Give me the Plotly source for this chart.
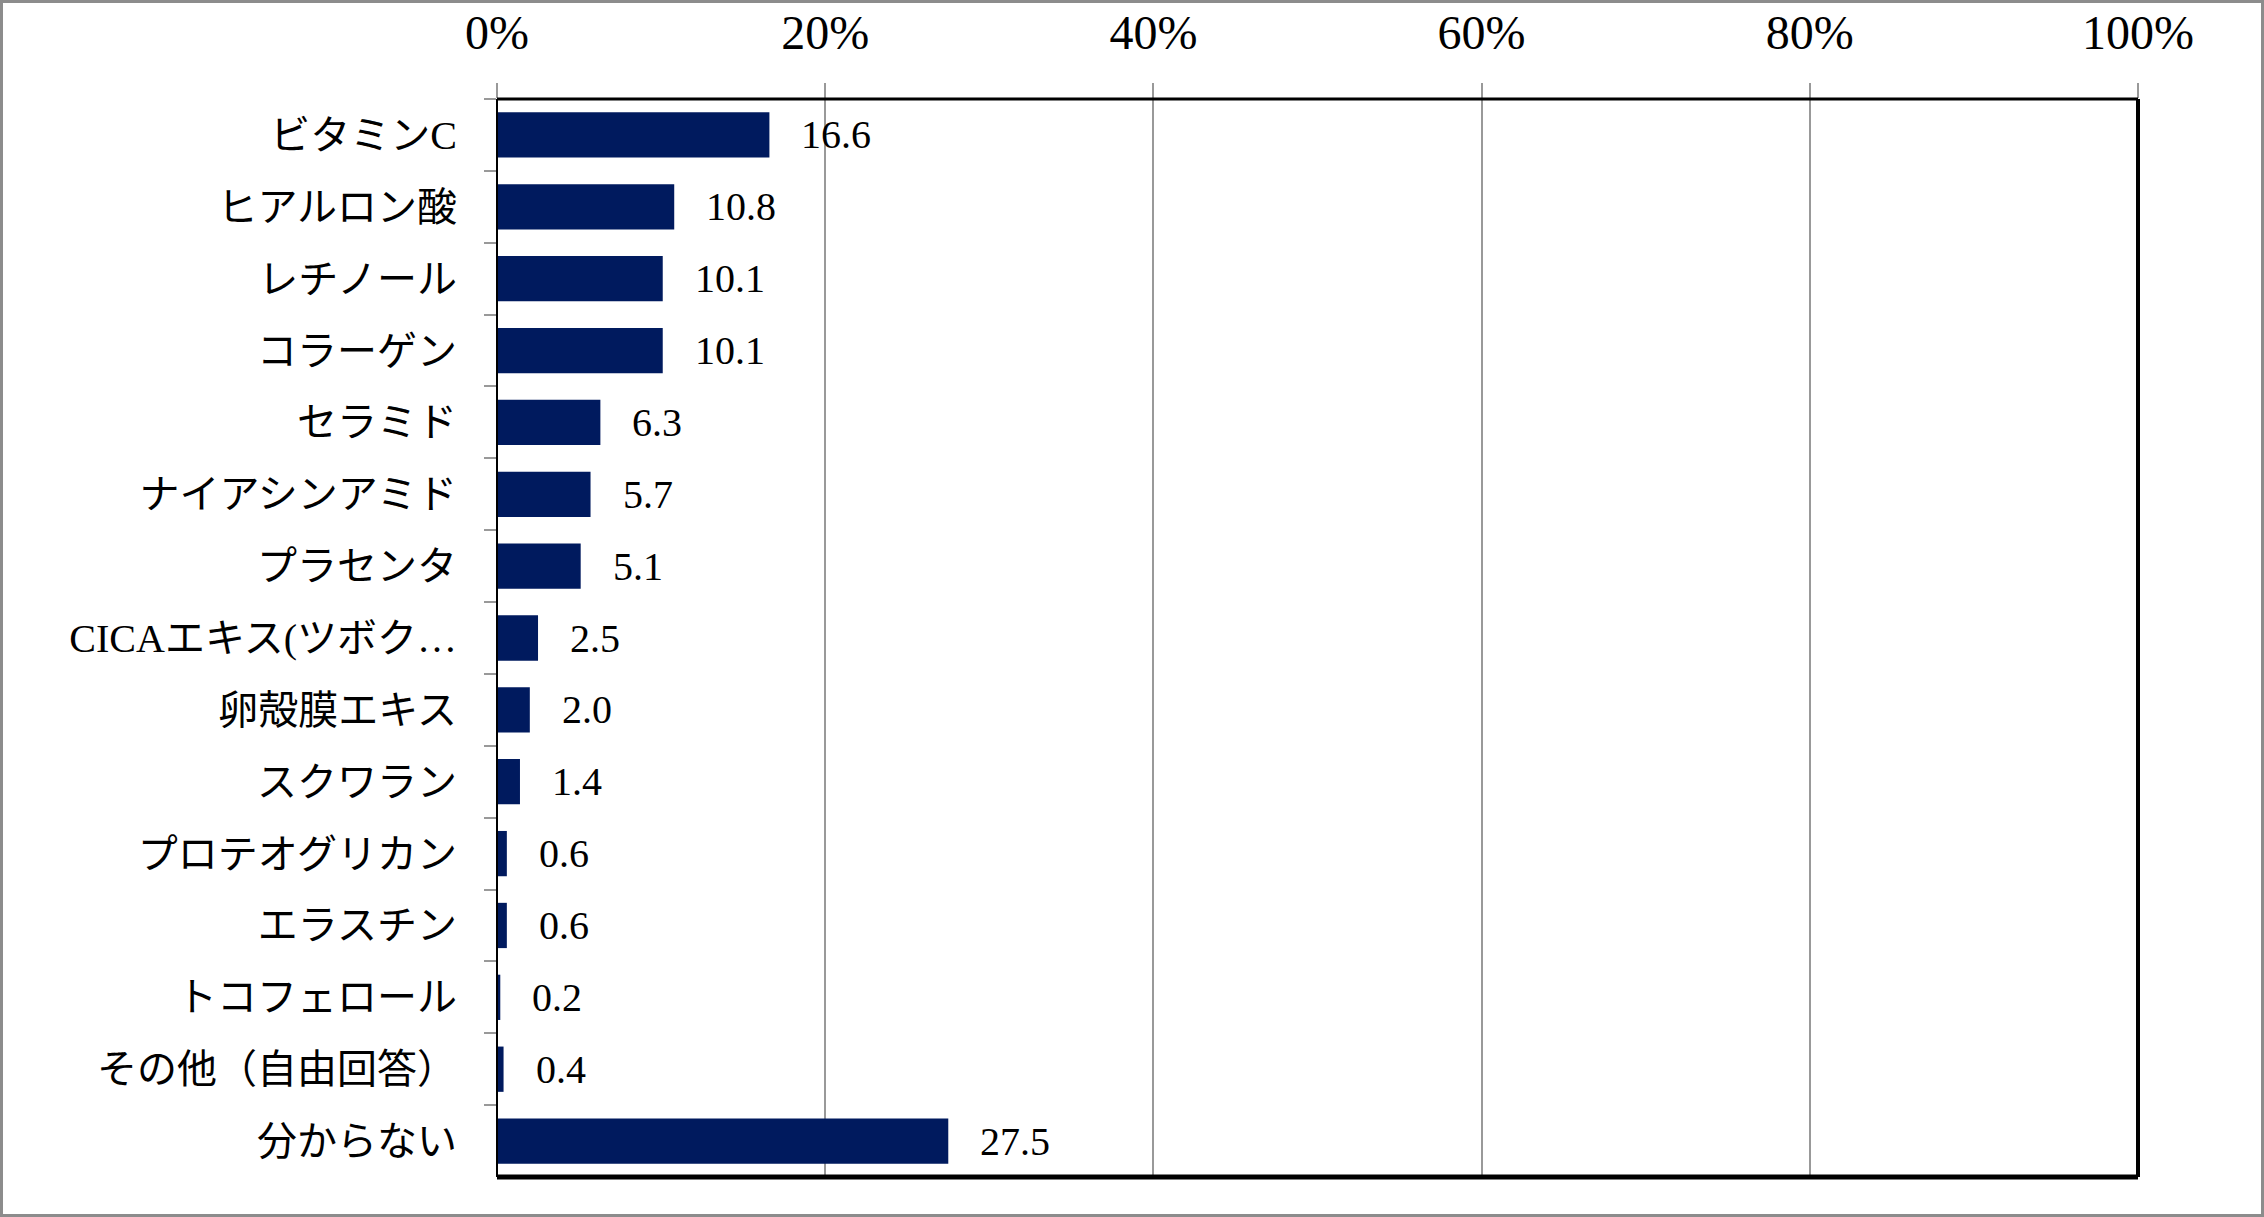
import plotly.graph_objects as go

categories = ["ビタミンC", "ヒアルロン酸", "レチノール", "コラーゲン", "セラミド",
              "ナイアシンアミド", "プラセンタ", "CICAエキス(ツボク…", "卵殻膜エキス",
              "スクワラン", "プロテオグリカン", "エラスチン", "トコフェロール",
              "その他（自由回答）", "分からない"]
values = [16.6, 10.8, 10.1, 10.1, 6.3, 5.7, 5.1, 2.5, 2.0, 1.4, 0.6, 0.6, 0.2, 0.4, 27.5]
tick_vals = [0, 20, 40, 60, 80, 100]
tick_text = ["0%", "20%", "40%", "60%", "80%", "100%"]

W, H = 2264, 1217
ML, MR, MT, MB = 497, 126, 99, 40
PW, PH = W - ML - MR, H - MT - MB

FONT = "Liberation Serif, 'Noto Sans CJK JP', serif"
BAR = "#001A5E"

fig = go.Figure()
fig.add_trace(go.Bar(
    x=values, y=categories, orientation="h",
    marker=dict(color=BAR, line=dict(width=0)),
    hoverinfo="skip",
))

for v, c in zip(values, categories):
    fig.add_annotation(x=v, y=c, xref="x", yref="y", text=f"{v:.1f}",
                       showarrow=False, xanchor="left", yanchor="middle",
                       xshift=30, font=dict(family=FONT, size=40, color="#000"))

# plot frame
fig.add_shape(type="line", xref="x domain", yref="y domain", x0=0, x1=1, y0=0, y1=0,
              line=dict(color="#000", width=5))
fig.add_shape(type="line", xref="x domain", yref="y domain", x0=1, x1=1, y0=0, y1=1,
              line=dict(color="#000", width=4))
fig.add_shape(type="line", xref="x domain", yref="y domain", x0=0, x1=1, y0=1, y1=1,
              line=dict(color="#000", width=3))
fig.add_shape(type="line", xref="x domain", yref="y domain", x0=0, x1=0, y0=0, y1=1,
              line=dict(color="#000", width=2))
# outer border
fig.add_shape(type="rect", xref="paper", yref="paper",
              x0=-(ML - 1.5) / PW, x1=1 + (MR - 1.5) / PW,
              y0=-(MB - 1.5) / PH, y1=1 + (MT - 1.5) / PH,
              line=dict(color="#8c8c8c", width=3), layer="above")

fig.update_layout(
    width=W, height=H,
    margin=dict(l=ML, r=MR, t=MT, b=MB, autoexpand=False),
    paper_bgcolor="#fff", plot_bgcolor="#fff",
    showlegend=False, bargap=0.37,
    font=dict(family=FONT, color="#000"),
    xaxis=dict(side="top", range=[0, 100], tickvals=tick_vals, ticktext=tick_text,
               showgrid=True, gridcolor="#999", gridwidth=2,
               ticks="outside", ticklen=15, tickcolor="#999", tickwidth=2,
               tickfont=dict(family=FONT, size=48, color="#000"),
               ticklabelstandoff=15,
               showline=False, zeroline=False, fixedrange=True),
    yaxis=dict(autorange="reversed", type="category",
               ticks="outside", tickson="boundaries", ticklen=12,
               tickcolor="#999", tickwidth=2,
               tickfont=dict(family=FONT, size=40, color="#000"),
               ticklabelstandoff=39,
               showgrid=False, showline=False, zeroline=False, fixedrange=True),
)

fig.write_html("out.html", post_script="document.body.style.margin='0';",
               config={"displayModeBar": False})
